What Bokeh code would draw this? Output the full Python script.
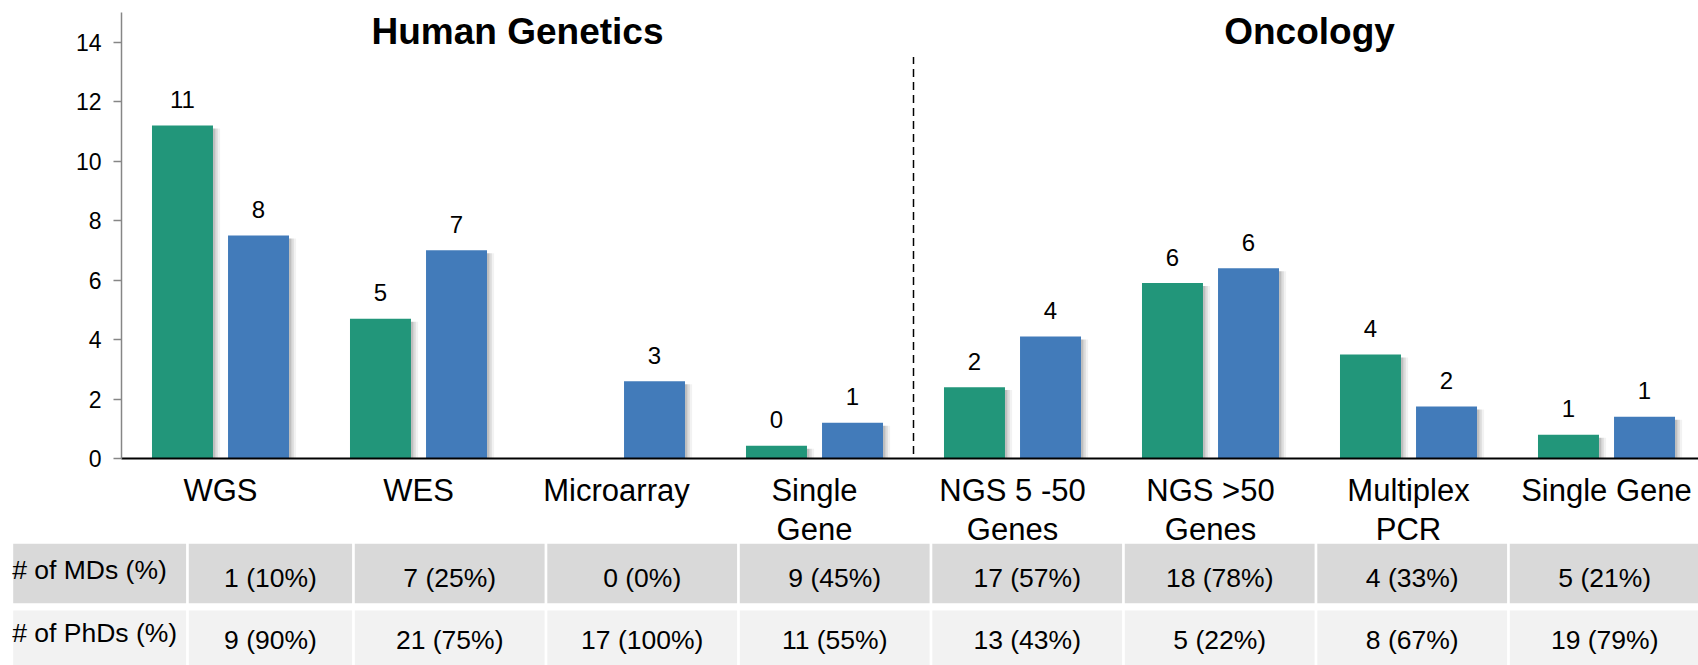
from bokeh.plotting import figure
from bokeh.models import Range1d, FixedTicker, ColumnDataSource
from bokeh.layouts import column
from bokeh.transform import dodge
from bokeh.core.properties import value
from bokeh.embed import file_html
from bokeh.resources import INLINE

# ---------------- data ----------------
categories = ["WGS", "WES", "Microarray", "Single\nGene",
              "NGS 5 -50\nGenes", "NGS >50\nGenes", "Multiplex\nPCR", "Single Gene"]
groups = ["Human Genetics", "Oncology"]
group_sizes = [4, 4]
md_values = [11.2, 4.7, 0.0, 0.43, 2.4, 5.9, 3.5, 0.8]      # green bars
phd_values = [7.5, 7.0, 2.6, 1.2, 4.1, 6.4, 1.75, 1.4]      # blue bars
md_labels = ["11", "5", "", "0", "2", "6", "4", "1"]
phd_labels = ["8", "7", "3", "1", "4", "6", "2", "1"]
row_names = ["# of MDs (%)", "# of PhDs (%)"]
md_counts = ["1 (10%)", "7 (25%)", "0 (0%)", "9 (45%)", "17 (57%)", "18 (78%)", "4 (33%)", "5 (21%)"]
phd_counts = ["9 (90%)", "21 (75%)", "17 (100%)", "11 (55%)", "13 (43%)", "5 (22%)", "8 (67%)", "19 (79%)"]
y_ticks = [0, 2, 4, 6, 8, 10, 12, 14]

# ---------------- style ----------------
FONT = value("Liberation Sans")
GREEN = "#22967a"
BLUE = "#427bba"
W, H = 1698, 665
PLOT_LEFT = 121
TOP_H = 472
CAT_PX = 198.0
X_END = -0.5 + (W - PLOT_LEFT) / CAT_PX
BAR_W = 0.308
OFF = 0.192

# ---------------- chart ----------------
pA = figure(width=W, height=TOP_H, x_range=Range1d(-0.5, X_END), y_range=Range1d(0, 15),
            output_backend="svg", toolbar_location=None,
            min_border_left=PLOT_LEFT, min_border_right=0, min_border_top=12,
            min_border_bottom=TOP_H - 12 - 446)
pA.outline_line_color = None
pA.grid.visible = False
pA.background_fill_color = "white"

yax = pA.yaxis[0]
yax.ticker = FixedTicker(ticks=y_ticks)
yax.axis_line_color = "#868686"
yax.axis_line_width = 1.5
yax.major_tick_line_color = "#868686"
yax.major_tick_line_width = 1.5
yax.major_tick_out = 8
yax.major_tick_in = 0
yax.minor_tick_line_color = None
yax.major_label_text_font = "Liberation Sans"
yax.major_label_text_font_size = "23px"
yax.major_label_text_color = "black"
yax.major_label_standoff = 12

xax = pA.xaxis[0]
xax.ticker = FixedTicker(ticks=[])
xax.axis_line_color = "black"
xax.axis_line_width = 2
xax.major_tick_line_color = None
xax.minor_tick_line_color = None
xax.major_label_standoff = 0

idx = list(range(len(categories)))
src = ColumnDataSource(dict(
    x=idx, md=md_values, phd=phd_values,
    md_sh=[max(v - 0.1, 0) for v in md_values],
    phd_sh=[max(v - 0.1, 0) for v in phd_values],
))

# soft drop shadows
for dx, a in [(0.012, 0.13), (0.024, 0.09), (0.036, 0.05)]:
    pA.vbar(x=dodge("x", -OFF + dx, range=pA.x_range), top="md_sh", bottom=0, width=BAR_W,
            source=src, fill_color="black", fill_alpha=a, line_color=None)
    pA.vbar(x=dodge("x", OFF + dx, range=pA.x_range), top="phd_sh", bottom=0, width=BAR_W,
            source=src, fill_color="black", fill_alpha=a, line_color=None)

pA.vbar(x=dodge("x", -OFF, range=pA.x_range), top="md", width=BAR_W, source=src,
        fill_color=GREEN, line_color=None)
pA.vbar(x=dodge("x", OFF, range=pA.x_range), top="phd", width=BAR_W, source=src,
        fill_color=BLUE, line_color=None)

# value labels (only where a label is shown)
for vals, labs, off in [(md_values, md_labels, -OFF), (phd_values, phd_labels, OFF)]:
    keep = [i for i, t in enumerate(labs) if t]
    lsrc = ColumnDataSource(dict(x=keep, y=[vals[i] for i in keep], t=[labs[i] for i in keep]))
    pA.text(x=dodge("x", off, range=pA.x_range), y="y", text="t", source=lsrc,
            text_align="center", text_baseline="alphabetic", y_offset=-26,
            text_font=FONT, text_font_size="24px", text_color="black")

# group titles and divider
starts = [sum(group_sizes[:i]) for i in range(len(group_sizes))]
centers = [s + (n - 1) / 2 for s, n in zip(starts, group_sizes)]
pA.text(x=centers, y=[14.37] * len(groups), text=groups, text_align="center",
        text_baseline="alphabetic", text_font=FONT, text_font_size="37px",
        text_font_style="bold", text_color="black")
div_x = group_sizes[0] - 0.5
pA.segment(x0=[div_x], y0=[0.15], x1=[div_x], y1=[13.5], line_color="black",
           line_width=1.5, line_dash="8 5")

# ---------------- table + category labels ----------------
pB = figure(width=W, height=H - TOP_H, x_range=Range1d(0, W), y_range=Range1d(H, TOP_H),
            output_backend="svg", toolbar_location=None,
            x_axis_location=None, y_axis_location=None, min_border=0)
pB.extra_x_ranges = {"cat": Range1d(-0.5 - PLOT_LEFT / CAT_PX, X_END)}
pB.outline_line_color = None
pB.grid.visible = False

for p in (pA, pB):
    if "frame_align" in p.properties():
        p.frame_align = False

pB.text(x=idx, y=[TOP_H] * len(categories), text=categories,
        x_range_name="cat", text_align="center", text_baseline="top",
        text_font=FONT, text_font_size="31px", text_line_height=1.13, text_color="black")

TABLE_LEFT, LABEL_PITCH, FIRST_PITCH, COL_PITCH, GAP = 12.7, 175.6, 166.0, 192.5, 2.7
pitches = [LABEL_PITCH, FIRST_PITCH] + [COL_PITCH] * (len(categories) - 1)
lefts = []
acc = TABLE_LEFT
for pw in pitches:
    lefts.append(acc)
    acc += pw
rights = [l + pw - GAP for l, pw in zip(lefts, pitches)]
row_tops = [543.3, 610.0]
ROW_H = 59.4
row_fill = ["#d9d9d9", "#f2f2f2"]
value_y = [577.5, 639.0]
label_y = [569.0, 632.5]

for r, (name, vals) in enumerate(zip(row_names, [md_counts, phd_counts])):
    pB.quad(left=lefts, right=rights, top=[row_tops[r]] * len(lefts),
            bottom=[row_tops[r] + ROW_H] * len(lefts), fill_color=row_fill[r], line_color=None)
    pB.text(x=[TABLE_LEFT - 1], y=[label_y[r]], text=[name], text_align="left",
            text_baseline="middle", text_font=FONT, text_font_size="26.5px", text_color="black")
    cx = [(l + rr) / 2 for l, rr in zip(lefts[1:], rights[1:])]
    pB.text(x=cx, y=[value_y[r]] * len(vals), text=vals, text_align="center",
            text_baseline="middle", text_font=FONT, text_font_size="26.5px", text_color="black")

layout = column(pA, pB, spacing=0)
open("out.html", "w").write(file_html(layout, INLINE))
